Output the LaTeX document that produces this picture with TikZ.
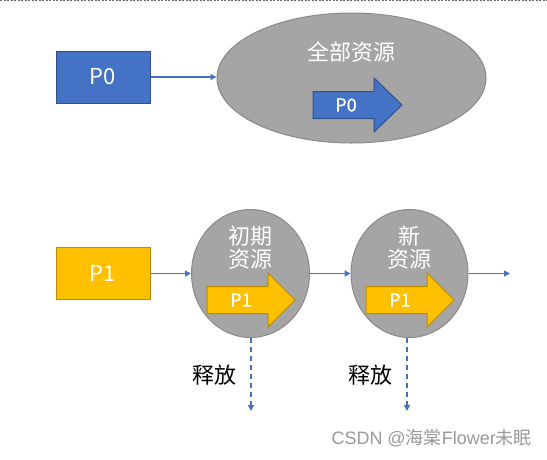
\documentclass[tikz,border=0pt]{standalone}
\usepackage{fontspec}
\setmainfont{Noto Sans CJK SC}
\newfontfamily\wmlatin{Liberation Sans}
\newfontfamily\medfont[FakeBold=0.8]{Noto Sans CJK SC}
\usetikzlibrary{shapes.geometric,arrows.meta}
\definecolor{pblue}{HTML}{4472C4}
\definecolor{pblueb}{HTML}{2F528F}
\definecolor{pgold}{HTML}{FFC000}
\definecolor{pgoldb}{HTML}{BC8C00}
\definecolor{rgray}{HTML}{A5A5A5}
\definecolor{rgrayb}{HTML}{8A8A8A}
\tikzset{
  procbox/.style={draw, line width=1pt, minimum width=94pt, minimum height=52pt, inner sep=0pt, font=\fontsize{22}{24}\selectfont, text=white},
  resell/.style={ellipse, draw=rgrayb, fill=rgray, line width=1pt, inner sep=0pt},
  conn/.style={draw=pblue, line width=1.5pt, -{Triangle[length=6pt,width=6pt]}},
  rel/.style={draw=pblue, line width=1.5pt, dash pattern=on 5pt off 4pt, -{Triangle[length=6pt,width=6pt]}},
  wlabel/.style={text=white, font=\fontsize{22}{26}\selectfont, inner sep=0pt, align=center},
  blabel/.style={text=black, font=\fontsize{22}{26}\selectfont, inner sep=0pt},
  arrlabel/.style={text=white, font=\medfont\fontsize{18}{20}\selectfont, inner sep=0pt}
}
\newcommand{\blockarrow}[5]{% x0, y(center), bodyend, tip, fill/draw
  \draw[#5, line width=1pt] (#1,#2-13.5) -- (#3,#2-13.5) -- (#3,#2-27) -- (#4,#2) -- (#3,#2+27) -- (#3,#2+13.5) -- (#1,#2+13.5) -- cycle;}
\begin{document}
\begin{tikzpicture}[x=1pt,y=-1pt]
\useasboundingbox (0,0) rectangle (547,459);
\draw[gray!80!black, line width=1pt, dash pattern=on 2pt off 1.5pt] (0,0.6) -- (547,0.6);

% top row
\node[procbox, fill=pblue, draw=pblueb] (p0) at (103,77) {P0};
\node[resell, minimum width=269pt, minimum height=130pt] (all) at (351.5,78) {};
\node[wlabel] (allt) at (351,52) {全部资源};
\blockarrow{313}{105}{374}{402}{fill=pblue, draw=pblueb}
\node[arrlabel] (a0) at (346,105) {P0};
\draw[conn] (p0.east) -- (p0.east -| all.west);

% bottom row
\node[procbox, fill=pgold, draw=pgoldb] (p1) at (103,273.5) {P1};
\node[resell, minimum width=118pt, minimum height=128pt] (c1) at (250.5,273.5) {};
\node[resell, minimum width=117pt, minimum height=128pt] (c2) at (409.5,273.5) {};
\node[wlabel] (c1t) at (250,248) {初期\\[-3pt]资源};
\node[wlabel] (c2t) at (409,248) {新\\[-3pt]资源};
\blockarrow{207}{300}{268}{295}{fill=pgold, draw=pgoldb}
\blockarrow{366}{300}{427}{454}{fill=pgold, draw=pgoldb}
\node[arrlabel] (a1) at (241,300) {P1};
\node[arrlabel] (a2) at (400,300) {P1};
\coordinate (out) at (510,273.5);
\draw[conn] (p1.east) -- (c1.west);
\draw[conn] (c1.east) -- (c2.west);
\draw[conn] (c2.east) -- (out);

% release
\coordinate (r1) at (251,411);
\coordinate (r2) at (407,411);
\draw[rel] (c1.south -| r1) -- (r1);
\draw[rel] (c2.south -| r2) -- (r2);
\node[blabel] (l1) at (214,375) {释放};
\node[blabel] (l2) at (370,375) {释放};

% watermark
\node[text=gray!80, font=\fontsize{18}{20}\selectfont, inner sep=0pt, anchor=east] (wm) at (532,438) {{\wmlatin CSDN @}海棠{\wmlatin Flower}未眠};
\end{tikzpicture}
\end{document}
